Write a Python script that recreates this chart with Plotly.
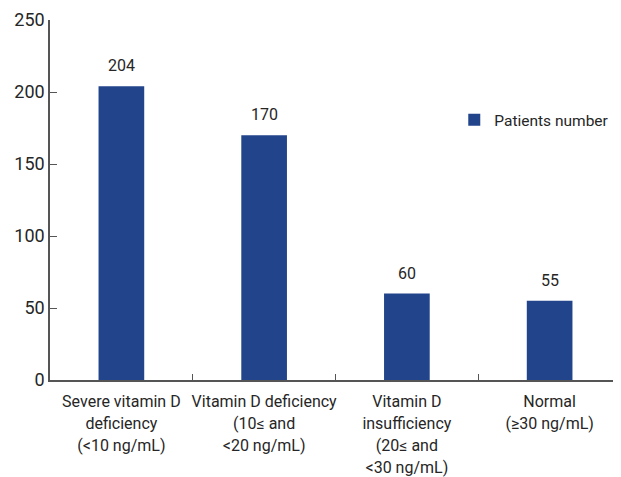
import plotly.graph_objects as go

categories = [
    "Severe vitamin D<br>deficiency<br>(&lt;10 ng/mL)",
    "Vitamin D deficiency<br>(10≤ and<br>&lt;20 ng/mL)",
    "Vitamin D<br>insufficiency<br>(20≤ and<br>&lt;30 ng/mL)",
    "Normal<br>(≥30 ng/mL)",
]
patients = [204, 170, 60, 55]
series_name = "Patients number"
y_ticks = [0, 50, 100, 150, 200, 250]

FONT = "Roboto, Liberation Sans, sans-serif"
TXT = "#262626"
BAR = "#22448b"


def small(label, px=16):
    return "<br>".join(
        f'<span style="font-size:{px}px">{part}</span>' for part in label.split("<br>")
    )


fig = go.Figure()
fig.add_trace(go.Bar(
    x=categories, y=patients, name=series_name,
    marker=dict(color=BAR, line=dict(width=0)),
    width=0.32,
    showlegend=True,
))

for c, v in zip(categories, patients):
    fig.add_annotation(
        x=c, y=v, text=str(v), showarrow=False,
        yanchor="bottom", yshift=9,
        font=dict(family=FONT, size=16, color=TXT),
    )

fig.update_layout(
    width=613, height=469,
    margin=dict(l=42, r=0, t=12, b=97),
    paper_bgcolor="white", plot_bgcolor="white",
    font=dict(family=FONT, color=TXT),
    showlegend=True,
    legend=dict(x=0.708, y=0.722, xanchor="left", yanchor="middle",
                font=dict(family=FONT, size=15.5, color=TXT),
                bgcolor="rgba(0,0,0,0)", itemwidth=30),
)
fig.update_xaxes(
    range=[-0.5, 3.5], automargin=False, tickangle=0,
    tickvals=categories, ticktext=[small(c) for c in categories],
    showline=True, linecolor="#555555", linewidth=1.5,
    ticks="inside", tickson="boundaries", ticklen=6, tickcolor="#555555",
    tickfont=dict(family=FONT, size=17, color=TXT),
    ticklabelstandoff=5,
    showgrid=False, zeroline=False,
)
fig.update_yaxes(
    range=[0, 250], tickvals=y_ticks, automargin=False,
    showline=True, linecolor="#555555", linewidth=1.5,
    ticks="inside", ticklen=7, tickcolor="#555555",
    tickfont=dict(family=FONT, size=18, color=TXT),
    showgrid=False, zeroline=False,
)

fig.write_html("out.html")
